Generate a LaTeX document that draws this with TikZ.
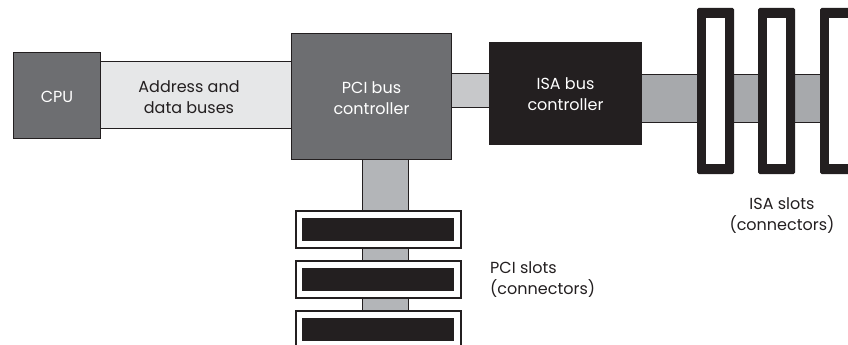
\documentclass[tikz,border=0pt]{standalone}
\usepackage{fontspec}
\setmainfont{Poppins}
\definecolor{cpugray}{HTML}{6D6E71}
\definecolor{abus}{HTML}{E6E7E8}
\definecolor{pibus}{HTML}{C7C8CA}
\definecolor{isablk}{HTML}{231F20}
\definecolor{isabus}{HTML}{A7A9AC}
\definecolor{pcibus}{HTML}{B3B5B8}
\begin{document}
\begin{tikzpicture}[x=1pt,y=-1pt,
  box/.style={draw=isablk,line width=1pt,inner sep=0pt,anchor=north west},
  busbar/.style={draw=isablk,line width=1pt},
  lbl/.style={font=\fontsize{16}{21}\selectfont,align=center,text=isablk,inner sep=0pt}]
\useasboundingbox (0,0) rectangle (848,345);
\clip (0,0) rectangle (848,345);
% buses (drawn first)
\draw[busbar,fill=abus] (98,62) rectangle (293,128);
\draw[busbar,fill=pibus] (449,73) rectangle (491,107);
\draw[busbar,fill=isabus] (639,74) rectangle (860,122);
\draw[busbar,fill=pcibus] (362,157) rectangle (408,330);
% boxes
\node[box,fill=cpugray,minimum width=87pt,minimum height=86pt] (cpu) at (13,52) {};
\node[lbl,text=white] at ([yshift=-1pt]cpu.center) {CPU};
\node[box,fill=cpugray,minimum width=160pt,minimum height=126pt] (pci) at (291,33) {};
\node[lbl,text=white] at ([yshift=-2pt]pci.center) {PCI bus\\controller};
\node[box,draw=isablk,fill=isablk,minimum width=152pt,minimum height=102pt] (isa) at (489,42) {};
\node[lbl,text=white] at ([yshift=-1pt]isa.center) {ISA bus\\controller};
\node[lbl] (alabel) at (189,97) {Address and\\data buses};
% ISA slots
\foreach \x/\n in {697/1,758/2,820/3}{
  \fill[isablk,rounded corners=1.5pt] (\x,8) rectangle ++(37,166);
  \fill[white] (\x+9,18) rectangle ++(19,146);
}
\node[lbl] (isal) at (782,216) {ISA slots\\(connectors)};
% PCI slots
\foreach \y/\n in {211/1,261/2,311/3}{
  \draw[isablk,fill=white,line width=1.2pt] (296,\y) rectangle ++(165,37);
  \fill[isablk] (302,\y+7) rectangle ++(152,23);
}
\node[lbl,align=left,anchor=west] (pcil) at (490,280) {PCI slots\\(connectors)};
\end{tikzpicture}
\end{document}
